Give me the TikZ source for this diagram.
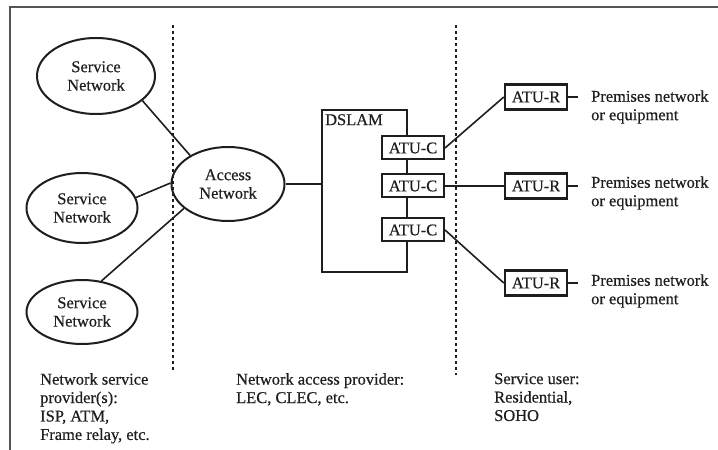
\documentclass[tikz,border=0pt]{standalone}
\usepackage{fontspec}
\setmainfont[FakeBold=0.5]{Liberation Serif}
\usetikzlibrary{shapes.geometric}
\definecolor{ink}{HTML}{1E1E1E}
\definecolor{rule}{HTML}{555555}
\newcommand\lblfont{\fontsize{16.5}{18.5}\selectfont}
\begin{document}
\begin{tikzpicture}[x=1bp,y=-1bp,
  net/.style={ellipse,draw=ink,line width=2bp,inner sep=0pt,align=center,font=\lblfont,text=ink},
  unit/.style={rectangle,draw=ink,line width=2bp,fill=white,inner sep=0pt,
    minimum width=62bp,minimum height=23bp,font=\lblfont,text=ink},
  remote/.style={unit,line width=2.4bp,minimum height=25bp},
  link/.style={draw=ink,line width=1.6bp},
  divider/.style={draw=ink,line width=2.4bp,dash pattern=on 3bp off 3bp},
  caption/.style={anchor=north west,align=left,inner sep=0pt,font=\lblfont,text=ink},
  frame/.style={draw=rule,line width=2bp}
]
\useasboundingbox (0,0) rectangle (718,450);

% outer frame (top and left edges)
\draw[frame] (10,450) -- (10,7) -- (718,7);

% domain dividers
\draw[divider] (173,25) -- (173,373);
\draw[divider] (456,25) -- (456,375);

% service networks and access network
\node[net,minimum width=118bp,minimum height=76bp] (sn1) at (96,76) {Service\\Network};
\node[net,minimum width=111bp,minimum height=70bp] (sn2) at (82,208) {Service\\Network};
\node[net,minimum width=111bp,minimum height=64bp] (sn3) at (82,312) {Service\\Network};
\node[net,minimum width=113bp,minimum height=74bp] (acc) at (228,184) {Access\\Network};

\draw[link] (sn1.-28) -- (acc.143);
\draw[link] (sn2.11) -- (acc.179);
\draw[link] (sn3.58) -- (acc.209);

% DSLAM with its ATU-C line cards
\node[rectangle,draw=ink,line width=2bp,minimum width=85bp,minimum height=162bp,inner sep=0pt] (dslam) at (364.5,191) {};
\node[anchor=north west,inner sep=0pt,font=\lblfont,text=ink] (dslamlbl) at ([xshift=4bp,yshift=-5bp]dslam.north west) {DSLAM};
\draw[link] (acc.east) -- (acc.east -| dslam.west);

\node[unit] (ac1) at (413,148) {ATU-C};
\node[unit] (ac2) at (413,186) {ATU-C};
\node[unit] (ac3) at (413,230) {ATU-C};

% remote units at the customer premises
\node[remote] (ar1) at (536,97) {ATU-R};
\node[remote] (ar2) at (536,186) {ATU-R};
\node[remote] (ar3) at (536,283) {ATU-R};

\draw[link] (ac1.east) -- (ar1.west);
\draw[link] (ac2.east) -- (ar2.west);
\draw[link] (ac3.east) -- (ar3.west);

\coordinate (t1) at (578,97);
\coordinate (t2) at (578,186);
\coordinate (t3) at (578,283);
\draw[link] (ar1.east) -- (t1);
\draw[link] (ar2.east) -- (t2);
\draw[link] (ar3.east) -- (t3);

\node[anchor=west,align=left,inner sep=0pt,font=\lblfont,text=ink] (pm1) at (591,107) {Premises network\\or equipment};
\node[anchor=west,align=left,inner sep=0pt,font=\lblfont,text=ink] (pm2) at (591,193) {Premises network\\or equipment};
\node[anchor=west,align=left,inner sep=0pt,font=\lblfont,text=ink] (pm3) at (591,291) {Premises network\\or equipment};

% domain captions
\node[caption] (capnsp) at (40,373) {Network service\\provider(s):\\ISP, ATM,\\Frame relay, etc.};
\node[caption] (capnap) at (236,373) {Network access provider:\\LEC, CLEC, etc.};
\node[caption] (capusr) at (494,373) {Service user:\\Residential,\\SOHO};
\end{tikzpicture}
\end{document}
